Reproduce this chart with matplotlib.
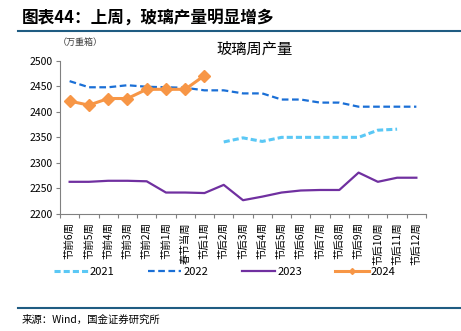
"""Glass weekly output around Spring Festival"""

import numpy as np
import matplotlib
matplotlib.use("Agg")
import matplotlib.pyplot as plt
from matplotlib.lines import Line2D

plt.rcParams['font.family'] = ['Noto Sans CJK SC', 'DejaVu Sans']

weeks = ["节前6周", "节前5周", "节前4周", "节前3周", "节前2周", "节前1周",
         "春节当周", "节后1周", "节后2周", "节后3周", "节后4周", "节后5周",
         "节后6周", "节后7周", "节后8周", "节后9周", "节后10周", "节后11周",
         "节后12周"]
nan = np.nan
y2021 = [nan, nan, nan, nan, nan, nan, nan, nan, 2341, 2349, 2342, 2350,
         2350, 2350, 2350, 2350, 2364, 2366, nan]
y2022 = [2460, 2448, 2448, 2452, 2449, 2448, 2447, 2442, 2442, 2436, 2436,
         2424, 2424, 2418, 2418, 2410, 2410, 2410, 2410]
y2023 = [2263, 2263, 2265, 2265, 2264, 2242, 2242, 2241, 2257, 2227, 2234,
         2242, 2246, 2247, 2247, 2281, 2263, 2271, 2271]
y2024 = [2421, 2413, 2426, 2426, 2444, 2444, 2444, 2471]

fig = plt.figure(figsize=(4.61, 3.31), dpi=100)
ax = fig.add_axes([60 / 461, 1 - 214 / 331, 366 / 461, 153.3 / 331])

x = np.arange(len(weeks))
ax.plot(x, y2021, color="#5BC8F5", lw=2.2, ls=(0, (2, 1)), label="2021")
ax.plot(x, y2022, color="#1A6FD6", lw=1.6, ls=(0, (3, 1.6)), label="2022")
ax.plot(x, y2023, color="#7030A0", lw=1.6, label="2023")
ax.plot(x[:len(y2024)], y2024, color="#F79646", lw=2.2, marker="D",
        ms=6, label="2024")

ax.set_xlim(-0.5, len(weeks) - 0.5)
ax.set_ylim(2200, 2500)
ax.set_yticks(np.arange(2200, 2501, 50))
ax.tick_params(axis="y", labelsize=7.5, length=3, color="#808080", pad=2)
ax.set_xticks(np.arange(-0.5, len(weeks), 1.0))
ax.set_xticklabels([])
ax.set_xticks(x, minor=True)
ax.set_xticklabels(weeks, minor=True, rotation=90, fontsize=7.5, va="top")
ax.tick_params(axis="x", which="major", length=3, color="#808080")
ax.tick_params(axis="x", which="minor", length=0, pad=6)
for s in ["top", "right"]:
    ax.spines[s].set_visible(False)
for s in ["left", "bottom"]:
    ax.spines[s].set_color("#808080")

handles = [Line2D([], [], color="#5BC8F5", lw=2.2, ls=(0, (2, 1))),
           Line2D([], [], color="#1A6FD6", lw=1.6, ls=(0, (3, 1.6))),
           Line2D([], [], color="#7030A0", lw=1.6),
           Line2D([], [], color="#F79646", lw=2.2, marker="D", ms=3)]
fig.legend(handles, ["2021", "2022", "2023", "2024"], ncol=4, frameon=False,
           loc="center", bbox_to_anchor=(225 / 461, 1 - 272 / 331),
           fontsize=8, handlelength=3.0, columnspacing=3.0,
           handletextpad=0.2)

fig.text(255 / 461, 1 - 49 / 331, "玻璃周产量", ha="center", va="center",
         fontsize=11)
fig.text(80 / 461, 1 - 42 / 331, "（万重箱）", ha="center", va="center",
         fontsize=6.5, color="#404040")
fig.text(22 / 461, 1 - 18 / 331, "图表44：上周，玻璃产量明显增多",
         ha="left", va="center", fontsize=12, fontweight="bold")
fig.text(22 / 461, 1 - 320 / 331, "来源：Wind，国金证券研究所",
         ha="left", va="center", fontsize=7.5)
fig.add_artist(Line2D([18 / 461, 1], [1 - 31 / 331] * 2, color="#1F5C82",
                      lw=1.5))
fig.add_artist(Line2D([18 / 461, 1], [1 - 308 / 331] * 2, color="#1F5C82",
                      lw=1.5))

fig.savefig("out.png", dpi=100)
